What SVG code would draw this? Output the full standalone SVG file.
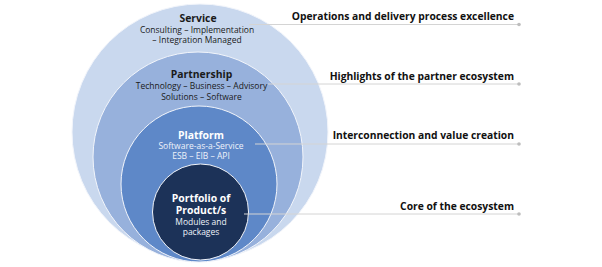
<svg xmlns="http://www.w3.org/2000/svg" width="602" height="267" viewBox="0 0 602 267">
<style>
.ring{stroke:#F2F5FB;stroke-width:1}
.t{font-family:"Open Sans","Noto Sans","DejaVu Sans",sans-serif;text-anchor:middle}
.h{font-weight:bold;font-size:10.4px}
.s{font-size:8.5px}
.dk{fill:#1A1A1A}
.wt{fill:#FFFFFF}
.lt{fill:#EEF2FA}
.lbl{font-family:"Open Sans","Noto Sans","DejaVu Sans",sans-serif;font-weight:bold;font-size:10.3px;fill:#111111;text-anchor:end}
.ln{stroke:#D4D4D4;stroke-width:1;fill:none}
.dot{fill:#BDBDBD}
</style>
<rect width="602" height="267" fill="#FFFFFF"/>
<g id="service">
<circle class="ring" cx="200" cy="132" r="128" fill="#C9D8EE"/>
<text class="t h dk" x="198" y="22">Service</text>
<text class="t s dk" x="197" y="33">Consulting – Implementation</text>
<text class="t s dk" x="197" y="43">– Integration Managed</text>
</g>
<g id="partnership">
<circle class="ring" cx="198" cy="157" r="105" fill="#97B1DC"/>
<text class="t h dk" x="201.5" y="77.5">Partnership</text>
<text class="t s dk" x="201.5" y="88.5">Technology – Business – Advisory</text>
<text class="t s dk" x="201.5" y="99.5">Solutions – Software</text>
</g>
<g id="platform">
<circle class="ring" cx="199" cy="184" r="78" fill="#5E88C8"/>
<text class="t h wt" x="201" y="138.5">Platform</text>
<text class="t s lt" x="201" y="149">Software-as-a-Service</text>
<text class="t s lt" x="201" y="159">ESB – EIB – API</text>
</g>
<g id="portfolio">
<circle class="ring" cx="200.5" cy="212" r="48" fill="#1C3258"/>
<text class="t h wt" x="201" y="201.5">Portfolio of</text>
<text class="t h wt" x="201" y="214">Product/s</text>
<text class="t s lt" x="201" y="224.5">Modules and</text>
<text class="t s lt" x="201" y="234.5">packages</text>
</g>
<g id="connectors">
<line class="ln" x1="249" y1="24.5" x2="519" y2="24.5"/>
<circle class="dot" cx="519" cy="24.5" r="1.8"/>
<line class="ln" x1="268" y1="84" x2="519" y2="84"/>
<circle class="dot" cx="519" cy="84" r="1.8"/>
<line class="ln" x1="255" y1="144" x2="519" y2="144"/>
<circle class="dot" cx="519" cy="144" r="1.8"/>
<line class="ln" x1="244" y1="214" x2="519" y2="214"/>
<circle class="dot" cx="519" cy="214" r="1.8"/>
</g>
<g id="labels">
<text class="lbl" x="514" y="20">Operations and delivery process excellence</text>
<text class="lbl" x="514" y="80">Highlights of the partner ecosystem</text>
<text class="lbl" x="514" y="139">Interconnection and value creation</text>
<text class="lbl" x="514" y="210">Core of the ecosystem</text>
</g>
</svg>
